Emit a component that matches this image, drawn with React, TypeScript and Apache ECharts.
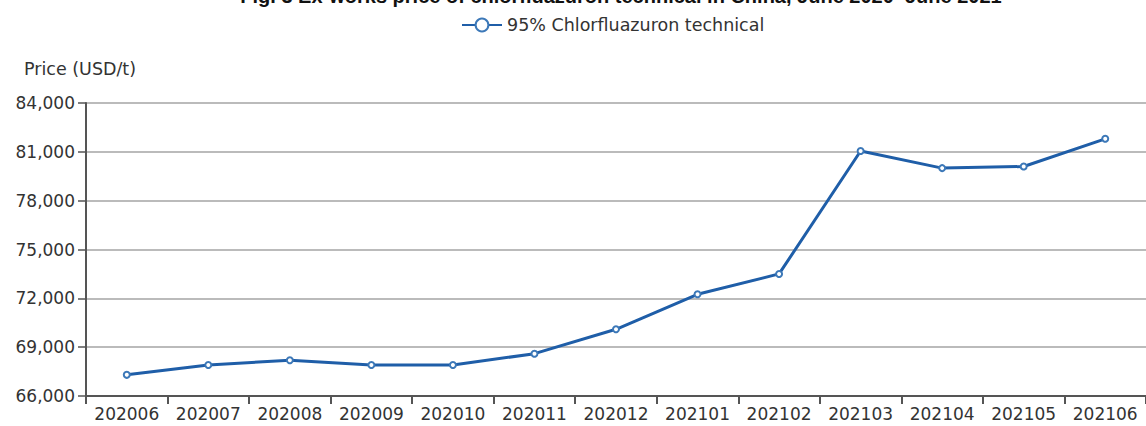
import React, { useEffect, useRef } from "react";
import * as echarts from "echarts";

const titleText = "Fig. 3 Ex-works price of chlorfluazuron technical in China, June 2020–June 2021";
const seriesName = "95% Chlorfluazuron technical";
const yAxisName = "Price (USD/t)";
const months = ["202006", "202007", "202008", "202009", "202010", "202011", "202012", "202101", "202102", "202103", "202104", "202105", "202106"];
const prices = [67300, 67900, 68200, 67900, 67900, 68600, 70100, 72250, 73500, 81050, 80000, 80100, 81800];
const yMin = 66000;
const yMax = 84000;
const yInterval = 3000;

const FONT = "'DejaVu Sans', sans-serif";

export default function App() {
  const ref = useRef<HTMLDivElement>(null);
  useEffect(() => {
    if (!ref.current) return;
    const chart = echarts.init(ref.current, null, { renderer: "svg" });
    chart.setOption({
      animation: false,
      backgroundColor: "#ffffff",
      graphic: [
        {
          type: "text",
          x: 621,
          y: 6,
          style: {
            text: titleText,
            fontFamily: "'Liberation Sans', Arial, sans-serif",
            fontSize: 20,
            fontWeight: "bold",
            fill: "#111",
            textAlign: "center",
            textVerticalAlign: "bottom",
          },
        },
      ],
      legend: {
        top: 11,
        left: 456,
        itemWidth: 40,
        itemHeight: 16,
        itemGap: 10,
        textStyle: { fontFamily: FONT, fontSize: 17.5, color: "#333" },
        lineStyle: { width: 2 },
        data: [seriesName],
      },
      grid: { left: 86, right: -8, top: 103, bottom: 30, containLabel: false },
      xAxis: {
        type: "category",
        data: months,
        boundaryGap: true,
        axisLine: { lineStyle: { color: "#555", width: 2 } },
        axisTick: { show: true, length: 8, lineStyle: { color: "#555", width: 2 } },
        axisLabel: { fontFamily: FONT, fontSize: 17, color: "#333", margin: 9, interval: 0 },
      },
      yAxis: {
        type: "value",
        min: yMin,
        max: yMax,
        interval: yInterval,
        name: yAxisName,
        nameLocation: "end",
        nameGap: 25,
        nameTextStyle: { fontFamily: FONT, fontSize: 17.5, color: "#333", align: "left", padding: [0, 0, 0, -62] },
        axisLine: { show: true, lineStyle: { color: "#555", width: 2 } },
        axisTick: { show: true, length: 8, lineStyle: { color: "#555", width: 1.5 } },
        axisLabel: {
          fontFamily: FONT,
          fontSize: 17,
          color: "#333",
          margin: 11,
          formatter: (v: number) => v.toLocaleString("en-US"),
        },
        splitLine: { show: true, lineStyle: { color: "#bbbbbb", width: 2 } },
      },
      series: [
        {
          name: seriesName,
          type: "line",
          data: prices,
          symbol: "emptyCircle",
          symbolSize: 6,
          lineStyle: { color: "#1f5ea8", width: 3 },
          itemStyle: { color: "#3c78b8", borderColor: "#3c78b8", borderWidth: 1.5 },
        },
      ],
    });
    return () => chart.dispose();
  }, []);
  return <div ref={ref} style={{ position: "absolute", left: 0, top: 0, width: 1146, height: 426 }} />;
}
